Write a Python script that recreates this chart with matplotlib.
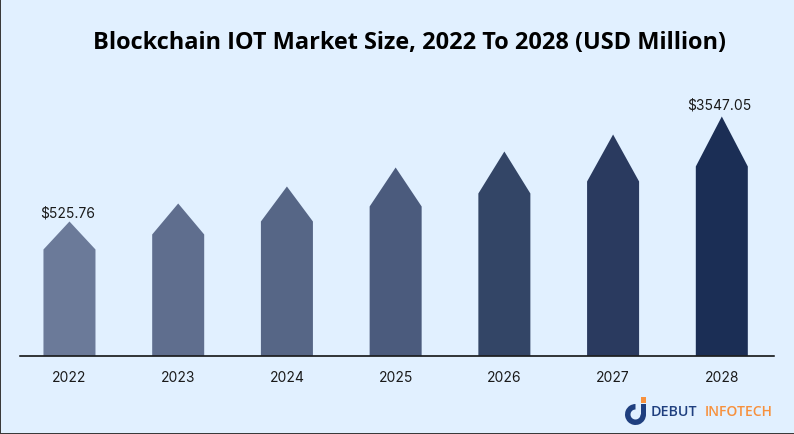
import matplotlib
matplotlib.use('Agg')
from matplotlib import pyplot as plt
from matplotlib.patches import Wedge, Rectangle

years = ['2022', '2023', '2024', '2025', '2026', '2027', '2028']
# tip and shoulder height of each arrow bar
peak = [134, 152, 169, 188, 204, 221, 239]
shoulder = [106, 121, 134, 149, 162, 174, 189]
labels = {0: '$525.76', 6: '$3547.05'}
colors = ['#6B7A99', '#5F6E8E', '#566686', '#4B5B7D', '#334566', '#2A3A5F', '#1B2E55']

W, H = 794, 435
bg = '#E1F0FF'
bar_w = 52 / 108.7

fig = plt.figure(figsize=(W / 100, H / 100), dpi=100, facecolor=bg)

# overlay in pixel coords for frame and logo
over = fig.add_axes([0, 0, 1, 1])
over.set_xlim(0, W)
over.set_ylim(H, 0)
over.axis('off')
over.add_patch(Rectangle((0, 0), 1, H, color='#3A3A3A', lw=0))
over.add_patch(Rectangle((0, H - 1), W, 1, color='#3A3A3A', lw=0))

ax = fig.add_axes([20 / W, (H - 356.5) / H, 754 / W, 256 / H])
ax.patch.set_alpha(0)
ax.set_xlim(-0.455, 6.48)
ax.set_ylim(0, 256)
for s in ['top', 'left', 'right']:
    ax.spines[s].set_visible(False)
ax.spines['bottom'].set_linewidth(1.1)
ax.spines['bottom'].set_color('black')
ax.set_yticks([])
ax.set_xticks(range(len(years)))
ax.set_xticklabels(years, fontsize=10, family='Inter', color='#1a1a1a')
ax.tick_params(axis='x', length=0, pad=10.5)

for i in range(len(years)):
    xs = [i - bar_w / 2, i - bar_w / 2, i, i + bar_w / 2, i + bar_w / 2]
    ys = [0, shoulder[i], peak[i], shoulder[i], 0]
    ax.fill(xs, ys, color=colors[i], lw=0, clip_on=False)
    if i in labels:
        ax.text(i - 0.02, peak[i] + (2 if i == 0 else 5), labels[i].replace('$', r'\$'),
                ha='center', va='bottom', fontsize=10, family='Inter', color='#1a1a1a', clip_on=False)

fig.text(409.5 / W, 1 - 43 / H, 'Blockchain IOT Market Size, 2022 To 2028 (USD Million)',
         ha='center', va='center', fontsize=16.9, fontweight='bold', family='Open Sans', color='black')

# logo
over.add_patch(Wedge((635.5, 415.5), 10.5, 0, 270, width=5.5, color='#1F3F7F', lw=0))
over.add_patch(Rectangle((641, 405), 5, 11, color='#1F3F7F', lw=0))
over.add_patch(Rectangle((640.5, 398), 5, 6, color='#F7913D', lw=0))
over.text(651, 412, 'DEBUT', fontsize=10.3, fontweight='semibold', family='Open Sans', color='#1F3F7F', va='center')
over.text(705, 412, 'INFOTECH', fontsize=10, fontweight='semibold', family='Open Sans', color='#F7913D', va='center')

fig.savefig('out.png', dpi=100, facecolor=bg)
